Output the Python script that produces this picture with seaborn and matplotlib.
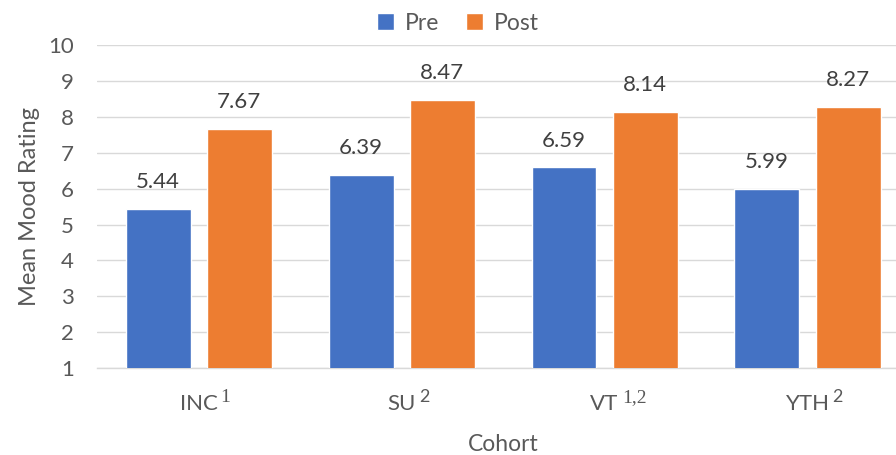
import matplotlib
matplotlib.use("Agg")
import matplotlib.pyplot as plt
import seaborn as sns
import pandas as pd

cohorts = ["INC", "SU", "VT", "YTH"]
cohort_notes = ["1", "2", "1,2", "2"]
pre_means = [5.44, 6.39, 6.59, 5.99]
post_means = [7.67, 8.47, 8.14, 8.27]
phases = ["Pre", "Post"]
y_ticks = list(range(1, 11))

sns.set_theme(style="white")
plt.rcParams["font.family"] = ["Lato", "DejaVu Sans"]

text_gray = "#595959"
grid_gray = "#D9D9D9"
palette = {"Pre": "#4472C4", "Post": "#ED7D31"}

df = pd.DataFrame({
    "Cohort": cohorts * 2,
    "Phase": ["Pre"] * len(cohorts) + ["Post"] * len(cohorts),
    "Mean": pre_means + post_means,
})

fig = plt.figure(figsize=(8.96, 4.55), dpi=100)
# plot area runs slightly past the right edge of the canvas
ax = fig.add_axes([0.1085, 0.191, 0.906, 0.71])

sns.barplot(data=df, x="Cohort", y="Mean", hue="Phase", hue_order=phases,
            order=cohorts, palette=palette, width=0.8, gap=0.2,
            saturation=1, errorbar=None, ax=ax, zorder=3)

ax.set_ylim(1, 10)
ax.set_xlim(-0.5, len(cohorts) - 0.5)
ax.set_yticks(y_ticks)
ax.yaxis.grid(True, color=grid_gray, linewidth=1, zorder=0)
ax.set_axisbelow(True)
for side in ["left", "right", "top"]:
    ax.spines[side].set_visible(False)
ax.spines["bottom"].set_color(grid_gray)
ax.spines["bottom"].set_linewidth(1)

ax.tick_params(axis="y", length=0, pad=17, labelsize=16, labelcolor=text_gray)
ax.tick_params(axis="x", length=0, pad=19, labelsize=16, labelcolor=text_gray)
ax.set_ylabel("Mean Mood Rating", fontsize=17, color=text_gray, labelpad=6)
ax.set_xlabel("Cohort", fontsize=16.5, color=text_gray, labelpad=14)

for container in ax.containers:
    ax.bar_label(container, fmt="%.2f", padding=12, fontsize=16, color="#404040")

ax.get_legend().remove()
handles, labels = ax.get_legend_handles_labels()
leg = fig.legend(handles, labels, loc="center", bbox_to_anchor=(0.511, 0.949),
                 ncol=2, frameon=False, fontsize=16.5, handlelength=0.75,
                 handleheight=0.75, handletextpad=0.45, columnspacing=1.2,
                 borderaxespad=0)
for t in leg.get_texts():
    t.set_color(text_gray)

# superscript notes next to each cohort label
fig.canvas.draw()
renderer = fig.canvas.get_renderer()
inv = fig.transFigure.inverted()
for lab, note in zip(ax.get_xticklabels(), cohort_notes):
    bb = lab.get_window_extent(renderer)
    serif = "1" in note
    x0, y0 = inv.transform((bb.x1 + 3, bb.y1 - 3))
    fig.text(x0, y0, note, fontsize=14 if serif else 13, color=text_gray,
             family="Liberation Serif" if serif else "Lato",
             ha="left", va="center")

fig.savefig("out.png", dpi=100)
